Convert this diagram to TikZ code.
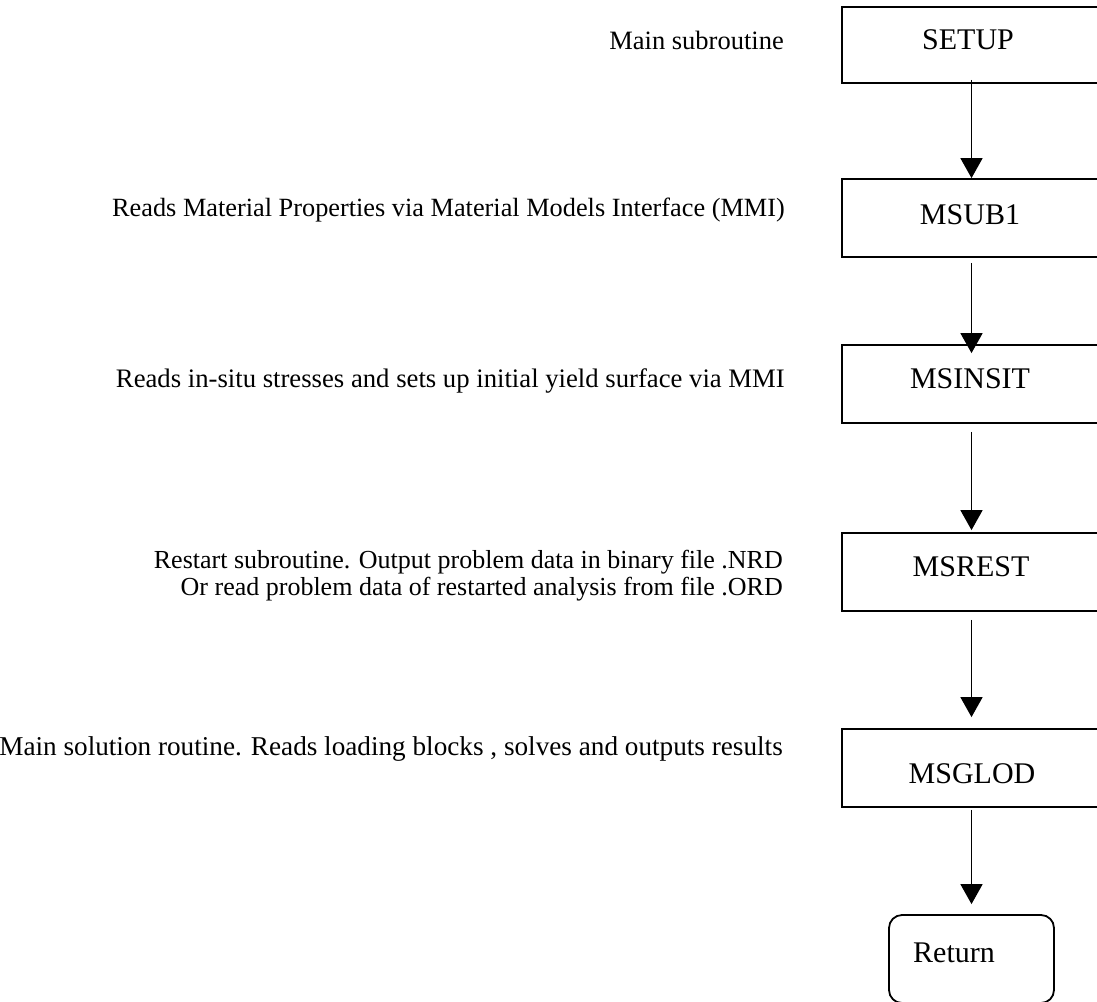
\documentclass[tikz,border=0pt]{standalone}
\usepackage{fontspec}
\setmainfont{Liberation Serif}
\usetikzlibrary{arrows.meta}
\begin{document}
\begin{tikzpicture}[x=1pt,y=-1pt,
  box/.style={draw, line width=1.8pt, minimum width=259pt, minimum height=78pt, inner sep=0pt},
  ret/.style={draw, line width=1.8pt, rounded corners=13pt, minimum width=165pt, minimum height=88pt, inner sep=0pt},
  boxtext/.style={font=\fontsize{30}{36}\selectfont, anchor=base, inner sep=0pt},
  lbl/.style={font=\fontsize{26.5}{32}\selectfont, anchor=base east, inner sep=0pt},
  arr/.style={line width=1.6pt, -{Triangle[width=22pt,length=20pt]}}]
\useasboundingbox (0,0) rectangle (1097,1001);
\clip (0,0) rectangle (1097,1001);
% boxes
\node[box, minimum height=76pt] (setup) at (971.5,45) {};
\node[box] (msub1) at (971.5,218) {};
\node[box] (msinsit) at (971.5,384) {};
\node[box] (msrest) at (971.5,572) {};
\node[box] (msglod) at (971.5,768) {};
\node[ret] (ret) at (971.5,959) {};
% box texts
\node[boxtext] (tsetup) at (968,49) {SETUP};
\node[boxtext] (tmsub1) at (970,224) {MSUB1};
\node[boxtext] (tmsinsit) at (970,388) {MSINSIT};
\node[boxtext] (tmsrest) at (971,576) {MSREST};
\node[boxtext] (tmsglod) at (972,783) {MSGLOD};
\node[boxtext] (tret) at (954,962) {Return};
% labels
\node[lbl] (l1) at (784,49) {Main subroutine};
\node[lbl, font=\fontsize{26.3}{32}\selectfont] (l2) at (785,216) {Reads Material Properties via Material Models Interface (MMI)};
\node[lbl, font=\fontsize{26.7}{32}\selectfont] (l3) at (785,387) {Reads in-situ stresses and sets up initial yield surface via MMI};
\node[lbl, font=\fontsize{26}{32}\selectfont] (l4a) at (783,568) {Restart subroutine. Output problem data in binary file .NRD};
\node[lbl, font=\fontsize{26}{32}\selectfont] (l4b) at (783,595) {Or read problem data of restarted analysis from file .ORD};
\node[lbl, font=\fontsize{27.2}{32}\selectfont] (l5) at (783,755) {Main solution routine. Reads loading blocks , solves and outputs results};
% arrows
\draw[arr] ([yshift=4pt]setup.south) -- (msub1.north);
\draw[arr] ([yshift=-5pt]msub1.south) -- ([yshift=-9pt]msinsit.north);
\draw[arr] ([yshift=-8pt]msinsit.south) -- ([yshift=2pt]msrest.north);
\draw[arr] ([yshift=-8pt]msrest.south) -- ([yshift=11pt]msglod.north);
\draw[arr] ([yshift=-2pt]msglod.south) -- ([yshift=10pt]ret.north);
\end{tikzpicture}
\end{document}
